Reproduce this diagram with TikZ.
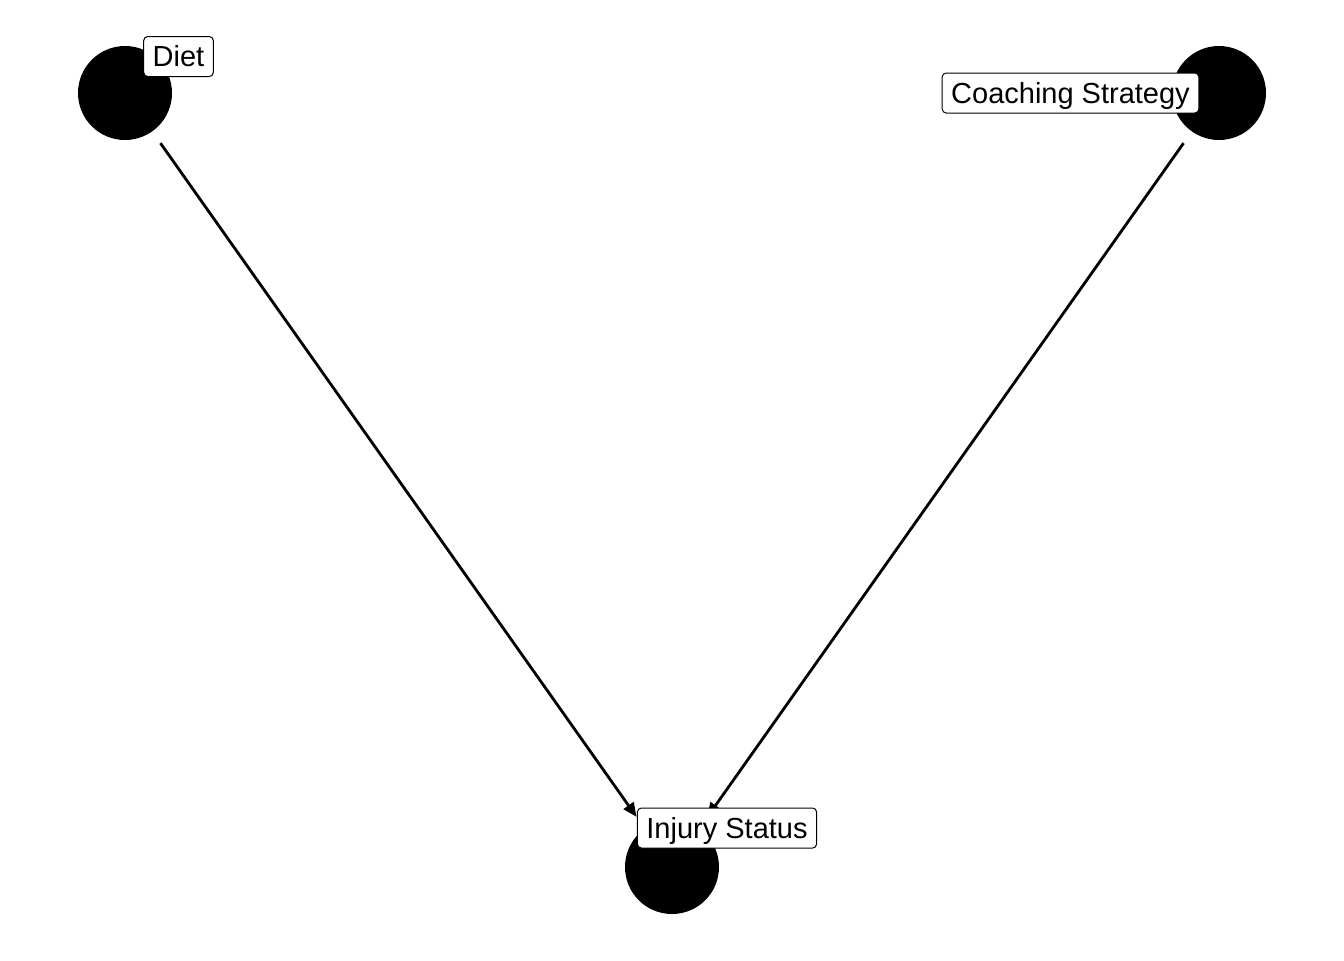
\documentclass[tikz,border=0pt]{standalone}
\usepackage{fontspec}
\setmainfont{Liberation Sans}
\usetikzlibrary{arrows.meta}

\tikzset{
  dot/.style={circle, fill=black, inner sep=0pt, minimum size=47pt},
  lbl/.style={draw=black, fill=white, line width=0.5pt, rounded corners=2pt,
    inner xsep=4.5pt, inner ysep=0pt, minimum height=20pt,
    text height=10.4pt, text depth=0pt,
    font=\fontsize{14.5}{17}\selectfont},
  edge/.style={line width=1.4pt, -{Triangle[length=7pt,width=6pt]},
    shorten <=7pt, shorten >=7pt}
}

\begin{document}
\begin{tikzpicture}[x=0.5pt, y=-0.5pt]
    \fill[white] (0,0) rectangle (1344,960);
    \useasboundingbox (0,0) rectangle (1344,960);
    % nodes
    \node[dot] (diet) at (125,93) {};
    \node[dot] (coach) at (1219,93) {};
    \node[dot] (injury) at (672,867) {};
    % edges
    \draw[edge] (diet) -- (injury);
    \draw[edge] (coach) -- (injury);
    % labels
    \node[lbl] (dietlbl) at (178.5,56.5) {Diet};
    \node[lbl] (coachlbl) at (1070.5,93) {Coaching Strategy};
    \node[lbl] (injurylbl) at (727,828) {Injury Status};
\end{tikzpicture}
\end{document}
